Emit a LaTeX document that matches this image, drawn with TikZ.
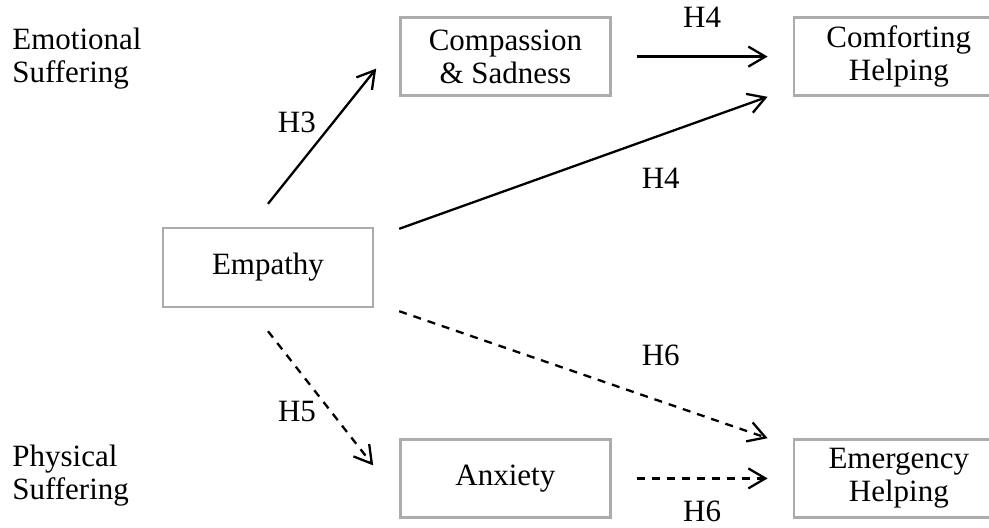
\documentclass[tikz,border=0pt]{standalone}
\usepackage{fontspec}
\setmainfont{Liberation Serif}
\usepackage{tikz}
\usetikzlibrary{arrows.meta, positioning, calc}

\tikzset{
  box/.style={rectangle, draw=gray!65, line width=1.2pt, minimum width=105pt, minimum height=39pt, align=center, inner sep=2pt},
  side/.style={inner sep=0pt, align=left, anchor=west},
  hyp/.style={inner sep=0pt},
  arr/.style={-{Straight Barb[length=8.5pt, width=10pt]}, line width=1.15pt},
  dsh/.style={arr, dash pattern=on 4pt off 3.5pt}
}

\begin{document}
\begin{tikzpicture}[font=\fontsize{15.5}{16.5}\selectfont]
    \useasboundingbox (0pt,0pt) rectangle (494.5pt,-263.5pt);

    % constructs
    \node (emp) [box, minimum height=39.5pt] at (134pt,-133.75pt) {Empathy};
    \node (comp) [box, above right=65pt and 12.5pt of emp] {Compassion\\\& Sadness};
    \node (anx) [box, below right=65pt and 12.5pt of emp] {Anxiety};
    \node (comf) [box, right=90.5pt of comp] {Comforting\\Helping};
    \node (emer) [box, right=90.5pt of anx] {Emergency\\Helping};

    % conditions
    \node (emo) [side] at (6pt,-29.5pt) {Emotional\\Suffering};
    \node (phys) [side] at (6pt,-238pt) {Physical\\Suffering};

    % emotional path
    \draw[arr] ([yshift=11.5pt]emp.north) -- ([xshift=-11.5pt,yshift=-6pt]comp.west)
        node[hyp, pos=0.6, left=8pt] {H3};
    \draw[arr] ([xshift=12.5pt]comp.east) -- ([xshift=-12.5pt]comf.west)
        node[hyp, midway, above=14pt] {H4};
    \draw[arr] ([xshift=12.5pt,yshift=-1pt]emp.north east) -- ([xshift=-12.5pt]comf.south west)
        node[hyp, pos=0.71, below=16pt] {H4};

    % physical path
    \draw[dsh] ([yshift=-11.5pt]emp.south) -- ([xshift=-13pt,yshift=6.5pt]anx.west)
        node[hyp, pos=0.6, left=7pt] {H5};
    \draw[dsh] ([xshift=12.5pt,yshift=-1.5pt]emp.south east) -- ([xshift=-12.5pt]emer.north west)
        node[hyp, pos=0.71, above=17pt] {H6};
    \draw[dsh] ([xshift=12.5pt]anx.east) -- ([xshift=-12.5pt]emer.west)
        node[hyp, midway, below=10.5pt] {H6};
\end{tikzpicture}
\end{document}
